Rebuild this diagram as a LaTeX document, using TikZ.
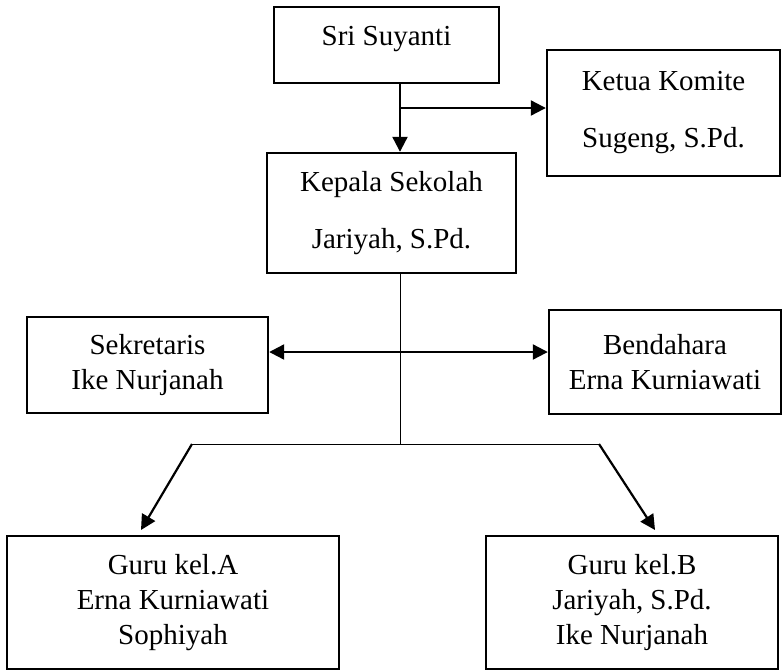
\documentclass[tikz,border=0pt]{standalone}
\usepackage{fontspec}
\setmainfont{Liberation Serif}
\usetikzlibrary{arrows.meta}
\tikzset{
  kotak/.style={draw, line width=1.2pt, inner sep=0pt, align=center, font=\fontsize{14.5}{17.5}\selectfont},
  renggang/.style={font=\fontsize{14.5}{28.5}\selectfont},
  tebal/.style={line width=1.1pt},
  tipis/.style={line width=0.5pt},
}
\begin{document}
\begin{tikzpicture}[>={Triangle[length=7.5pt,width=7.5pt]}, x=0.5pt, y=-0.5pt]
    \useasboundingbox (0,0) rectangle (782,670);
    % kotak-kotak
    \node[kotak, minimum width=112.5pt, text height=19pt, text depth=19pt] (sri) at (386.5,45) {Sri Suyanti};
    \node[kotak, renggang, minimum width=116.5pt, minimum height=63pt] (ketua) at (663.5,113) {Ketua Komite\\Sugeng, S.Pd.};
    \node[kotak, renggang, minimum width=124.5pt, minimum height=60pt] (kepala) at (391.5,213) {Kepala Sekolah\\Jariyah, S.Pd.};
    \node[kotak, minimum width=120.5pt, minimum height=48pt] (sek) at (147.5,365) {Sekretaris\\Ike Nurjanah};
    \node[kotak, minimum width=116pt, minimum height=52pt] (bend) at (665,362) {Bendahara\\Erna Kurniawati};
    \node[kotak, minimum width=166pt, minimum height=66.5pt] (guruA) at (173,602.5) {Guru kel.A\\Erna Kurniawati\\Sophiyah};
    \node[kotak, minimum width=146pt, minimum height=66.5pt] (guruB) at (632,602.5) {Guru kel.B\\Jariyah, S.Pd.\\Ike Nurjanah};
    % titik bantu
    \coordinate (cabang) at (400,108);
    \coordinate (tengah) at (400,352);
    \coordinate (garpu) at (400,444);
    \coordinate (garpuL) at (192,444);
    \coordinate (garpuR) at (599,444);
    \coordinate (ujungA) at (141,530);
    \coordinate (ujungB) at (655,530);
    % garis
    \draw[tebal, ->] (sri.south -| cabang) -- (kepala.north -| cabang);
    \draw[tebal, ->] (cabang) -- (ketua.west |- cabang);
    \draw[tipis] (kepala.south -| garpu) -- (garpu);
    \draw[tebal, <->] (sek.east |- tengah) -- (bend.west |- tengah);
    \draw[tipis] (garpuL) -- (garpuR);
    \draw[tebal, ->] (garpuL) -- (ujungA);
    \draw[tebal, ->] (garpuR) -- (ujungB);
\end{tikzpicture}
\end{document}
